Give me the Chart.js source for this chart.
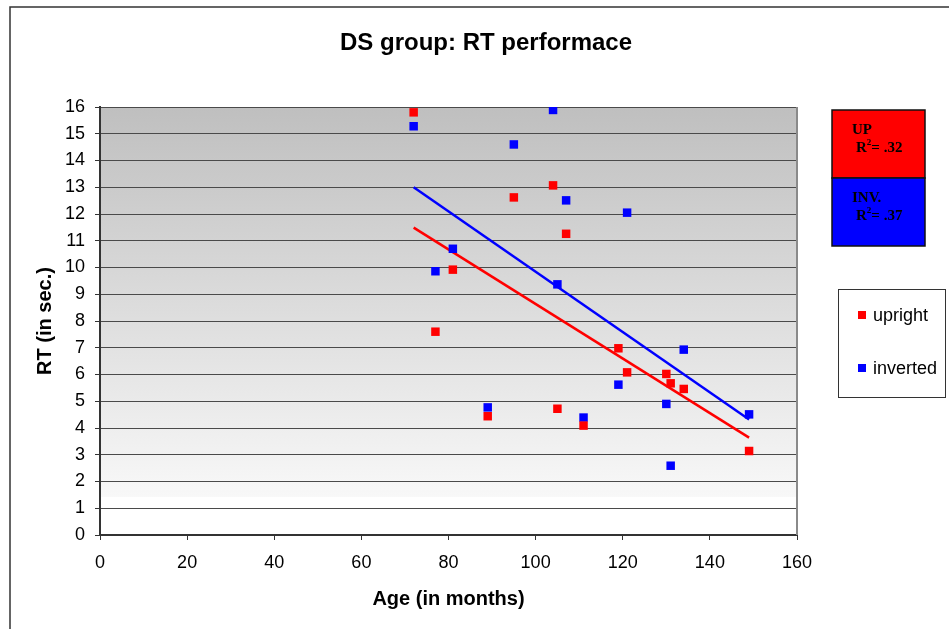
<!DOCTYPE html>
<html>
<head>
<meta charset="utf-8">
<script src="https://cdn.jsdelivr.net/npm/chart.js@4/dist/chart.umd.min.js"></script>
<style>
  html, body { margin: 0; padding: 0; background: #ffffff; }
  #wrap { width: 949px; height: 629px; position: relative; }
</style>
</head>
<body>
<div id="wrap"><canvas id="c" width="949" height="629"></canvas></div>
<script>
// ---- data ----
const ages = [72, 77, 81, 89, 95, 104, 105, 107, 111, 119, 121, 130, 131, 134, 149];
const uprightRT = [15.8, 7.60, 9.92, 4.44, 12.62, 13.07, 4.72, 11.26, 4.09, 6.98, 6.08, 6.02, 5.67, 5.46, 3.14];
const invertedRT = [15.28, 9.86, 10.70, 4.77, 14.6, 15.89, 9.37, 12.51, 4.39, 5.62, 12.05, 4.90, 2.59, 6.93, 4.51];
const trendX = [72, 149];
const uprightTrendY = [11.49, 3.64];
const invertedTrendY = [13.0, 4.32];
const xTicks = [0, 20, 40, 60, 80, 100, 120, 140, 160];
const yTicks = [0, 1, 2, 3, 4, 5, 6, 7, 8, 9, 10, 11, 12, 13, 14, 15, 16];
const seriesNames = ['upright', 'inverted'];
const titleText = 'DS group: RT performace';
const xTitle = 'Age (in months)';
const yTitle = 'RT (in sec.)';
const r2Boxes = [
  { name: 'UP', r2: '= .32' },
  { name: 'INV.', r2: '= .37' }
];

const RED = '#ff0000', BLUE = '#0000ff';
const SANS = '"Liberation Sans", Arial, sans-serif';
const SERIF = '"Liberation Serif", "Times New Roman", serif';

const toPts = (xs, ys) => xs.map((x, i) => ({ x: x, y: ys[i] }));

const decor = {
  id: 'decor',
  beforeDraw(chart) {
    const { ctx, chartArea: a } = chart;
    ctx.save();
    const g = ctx.createLinearGradient(0, a.top, 0, a.bottom);
    g.addColorStop(0, '#bfbfbf');
    g.addColorStop(0.91, '#f8f8f8');
    g.addColorStop(0.911, '#ffffff');
    g.addColorStop(1, '#ffffff');
    ctx.fillStyle = g;
    ctx.fillRect(a.left, a.top, a.right - a.left, a.bottom - a.top);
    ctx.restore();
  },
  afterDraw(chart) {
    const { ctx, chartArea: a } = chart;
    ctx.save();
    // outer frame
    ctx.strokeStyle = '#333333';
    ctx.lineWidth = 1.5;
    ctx.strokeRect(10, 7, 1000, 700);
    // right border of plot
    ctx.strokeStyle = '#8a8a8a';
    ctx.lineWidth = 2;
    ctx.beginPath();
    ctx.moveTo(a.right, a.top);
    ctx.lineTo(a.right, a.bottom);
    ctx.stroke();
    // title
    ctx.fillStyle = '#000';
    ctx.font = 'bold 24px ' + SANS;
    ctx.textAlign = 'center';
    ctx.textBaseline = 'middle';
    ctx.fillText(titleText, 486, 43);

    // R² boxes
    const bx = 832, bw = 93, bh = 68;
    const cols = [RED, BLUE];
    r2Boxes.forEach((b, i) => {
      const by = 110 + i * bh;
      ctx.fillStyle = cols[i];
      ctx.fillRect(bx, by, bw, bh);
      ctx.strokeStyle = '#111';
      ctx.lineWidth = 1.5;
      ctx.strokeRect(bx, by, bw, bh);
      ctx.fillStyle = '#000';
      ctx.textAlign = 'left';
      ctx.textBaseline = 'middle';
      ctx.font = 'bold 15px ' + SERIF;
      ctx.fillText(b.name, 852, by + 20);
      ctx.fillText('R', 856, by + 38);
      const rw = ctx.measureText('R').width;
      ctx.font = 'bold 9px ' + SERIF;
      ctx.fillText('2', 856 + rw, by + 33);
      const sw = ctx.measureText('2').width;
      ctx.font = 'bold 15px ' + SERIF;
      ctx.fillText(b.r2, 856 + rw + sw, by + 38);
    });

    // legend box
    ctx.fillStyle = '#fff';
    ctx.fillRect(838, 289, 107, 108);
    ctx.strokeStyle = '#333';
    ctx.lineWidth = 1;
    ctx.strokeRect(838.5, 289.5, 107, 108);
    seriesNames.forEach((n, i) => {
      const y = 315 + i * 53;
      ctx.fillStyle = cols[i];
      ctx.fillRect(858, y - 4, 8, 8);
      ctx.fillStyle = '#000';
      ctx.font = '18px ' + SANS;
      ctx.textAlign = 'left';
      ctx.textBaseline = 'middle';
      ctx.fillText(n, 873, y + 1);
    });
    ctx.restore();
  }
};

new Chart(document.getElementById('c'), {
  type: 'scatter',
  data: {
    datasets: [
      { label: seriesNames[0], data: toPts(ages, uprightRT), backgroundColor: RED, borderColor: RED,
        pointStyle: 'rect', pointRadius: 6, borderWidth: 0, showLine: false },
      { label: seriesNames[1], data: toPts(ages, invertedRT), backgroundColor: BLUE, borderColor: BLUE,
        pointStyle: 'rect', pointRadius: 6, borderWidth: 0, showLine: false },
      { label: 'upright trend', data: toPts(trendX, uprightTrendY), borderColor: RED, backgroundColor: RED,
        showLine: true, pointRadius: 0, borderWidth: 2.5 },
      { label: 'inverted trend', data: toPts(trendX, invertedTrendY), borderColor: BLUE, backgroundColor: BLUE,
        showLine: true, pointRadius: 0, borderWidth: 2.5 }
    ]
  },
  options: {
    responsive: false,
    animation: false,
    devicePixelRatio: 1,
    layout: { padding: { left: 0, top: 107, right: 152, bottom: 0 } },
    plugins: { legend: { display: false }, title: { display: false }, tooltip: { enabled: false } },
    scales: {
      x: {
        type: 'linear', min: 0, max: 160,
        afterBuildTicks: s => { s.ticks = xTicks.map(v => ({ value: v })); },
        afterFit: s => { s.height = 94; },
        grid: { display: true, drawOnChartArea: false, drawTicks: true, tickLength: 5, color: '#333', tickColor: '#333' },
        border: { display: true, color: '#333', width: 2 },
        ticks: { color: '#000', font: { family: SANS, size: 18 }, padding: 12, maxRotation: 0 },
        title: { display: true, text: xTitle, color: '#000', font: { family: SANS, size: 20, weight: 'bold' }, padding: { top: 0, bottom: 18 } }
      },
      y: {
        type: 'linear', min: 0, max: 16,
        afterBuildTicks: s => { s.ticks = yTicks.map(v => ({ value: v })); },
        afterFit: s => { s.width = 100; },
        grid: { display: true, drawTicks: true, tickLength: 5, color: '#4a4a4a', tickColor: '#333', lineWidth: 1 },
        border: { display: true, color: '#333', width: 2 },
        ticks: { color: '#000', font: { family: SANS, size: 18 }, padding: 10 },
        title: { display: true, text: yTitle, color: '#000', font: { family: SANS, size: 20, weight: 'bold' }, padding: { top: 33, bottom: 0 } }
      }
    }
  },
  plugins: [decor]
});
</script>
</body>
</html>
